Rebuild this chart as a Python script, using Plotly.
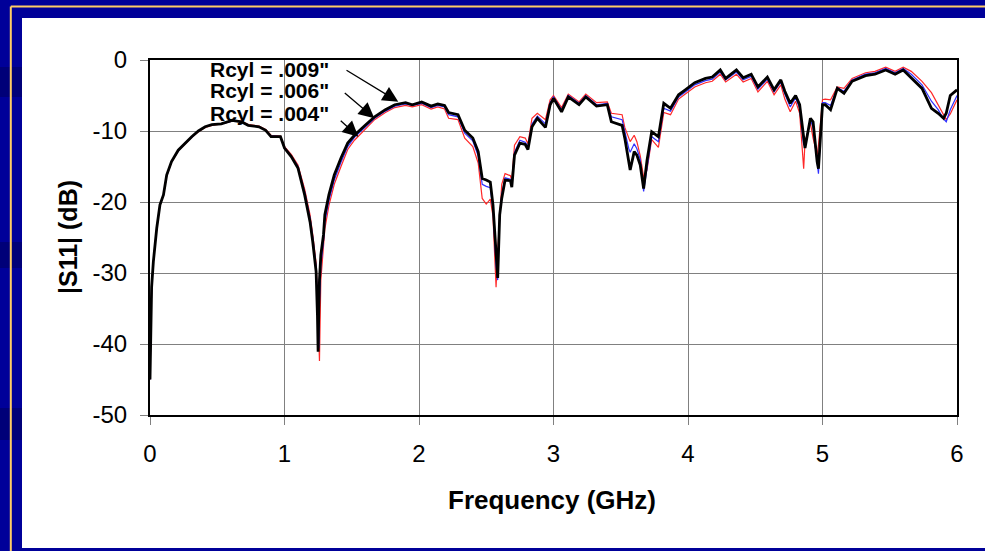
import plotly.graph_objects as go

# ---------------- data ----------------
freq_ghz = [0.0, 0.005, 0.012, 0.025, 0.05, 0.074, 0.1, 0.124, 0.16, 0.21, 0.26, 0.31, 0.36, 0.41,
            0.46, 0.53, 0.61, 0.68, 0.73, 0.81, 0.86, 0.9, 0.97, 1.0, 1.05, 1.1, 1.15, 1.19, 1.21,
            1.235, 1.245, 1.25, 1.255, 1.26, 1.27, 1.29, 1.3, 1.33, 1.37, 1.42, 1.47, 1.52, 1.6,
            1.67, 1.75, 1.82, 1.9, 1.95, 2.02, 2.09, 2.14, 2.19, 2.22, 2.29, 2.34, 2.4, 2.44, 2.47,
            2.5, 2.53, 2.55, 2.565, 2.573, 2.585, 2.6, 2.615, 2.64, 2.68, 2.69, 2.71, 2.75, 2.79,
            2.81, 2.84, 2.88, 2.94, 2.975, 3.0, 3.06, 3.11, 3.19, 3.24, 3.32, 3.4, 3.43, 3.51,
            3.53, 3.56, 3.57, 3.6, 3.62, 3.645, 3.67, 3.695, 3.73, 3.78, 3.82, 3.87, 3.93, 3.98,
            4.05, 4.13, 4.18, 4.24, 4.28, 4.36, 4.41, 4.47, 4.52, 4.59, 4.64, 4.69, 4.72, 4.76,
            4.8, 4.83, 4.86, 4.87, 4.91, 4.93, 4.96, 4.97, 5.0, 5.02, 5.06, 5.11, 5.16, 5.22,
            5.32, 5.39, 5.47, 5.54, 5.6, 5.66, 5.74, 5.81, 5.86, 5.9, 5.92, 5.95, 6.0]

s11_r009 = [-45, -38, -32, -28.4, -23.7, -20.4, -19.0, -16.2, -14.3, -12.7, -11.7, -10.8, -10.0, -9.4,
            -9.1, -9.0, -8.5, -8.7, -9.2, -9.4, -9.9, -10.8, -10.8, -12.4, -13.6, -15.2, -19.0, -22.8, -25.6,
            -29.8, -35.9, -41.1, -35.0, -31.0, -27.5, -24.6, -21.8, -19.0, -16.2, -13.8, -11.7, -10.6, -9.2,
            -8.0, -7.0, -6.3, -6.0, -6.3, -5.9, -6.5, -6.2, -6.4, -7.4, -7.7, -9.9, -11.0, -12.9, -16.7,
            -16.9, -17.2, -20.4, -25.6, -28.0, -30.7, -21.8, -19.5, -16.9, -17.0, -17.9, -13.4, -11.7, -11.9,
            -12.6, -9.4, -8.2, -9.5, -6.3, -5.4, -7.3, -5.2, -6.3, -5.2, -6.5, -6.3, -8.7, -9.2,
            -11.0, -14.8, -15.5, -12.9, -13.4, -14.8, -18.1, -14.2, -10.1, -10.8, -6.1, -6.8, -4.9, -4.2,
            -3.2, -2.6, -2.4, -1.4, -2.6, -1.4, -2.5, -2.0, -3.8, -2.4, -4.2, -2.8, -4.4, -6.1,
            -5.0, -6.3, -11.5, -12.4, -8.2, -8.7, -14.3, -15.3, -6.3, -6.3, -7.0, -4.0, -4.7, -3.0,
            -2.2, -2.0, -1.4, -2.0, -1.4, -2.5, -4.0, -6.8, -7.5, -8.2, -7.5, -5.0, -4.2]

s11_r006 = [-45, -38, -32, -28.4, -23.7, -20.4, -19.0, -16.3, -14.3, -12.8, -11.7, -10.9, -10.0, -9.4,
            -9.1, -9.0, -8.6, -8.7, -9.2, -9.4, -9.9, -10.7, -10.8, -12.3, -13.5, -15.0, -18.6, -22.3, -25.0,
            -29.2, -34.5, -39.5, -40.6, -34.0, -29.0, -25.5, -22.8, -19.8, -16.9, -14.4, -12.2, -10.9, -9.4,
            -8.2, -7.2, -6.5, -6.2, -6.4, -6.1, -6.7, -6.4, -6.6, -7.7, -8.0, -10.3, -11.4, -13.5, -17.5,
            -17.8, -18.0, -21.0, -26.5, -29.0, -31.0, -22.0, -19.0, -16.6, -16.8, -17.5, -13.0, -11.3, -11.6,
            -12.2, -9.0, -7.9, -9.0, -6.0, -5.2, -7.0, -5.0, -6.1, -5.0, -6.3, -6.1, -8.0, -8.4,
            -10.2, -12.5, -13.0, -11.8, -12.5, -14.0, -18.5, -15.0, -10.8, -11.5, -6.8, -7.2, -5.2, -4.5,
            -3.5, -2.9, -2.7, -1.7, -2.8, -1.7, -2.8, -2.3, -4.1, -2.7, -4.5, -3.1, -4.8, -6.6,
            -5.3, -6.8, -12.0, -11.8, -8.4, -9.5, -14.8, -16.0, -6.0, -6.0, -6.4, -3.9, -4.4, -2.8,
            -2.0, -1.8, -1.2, -1.8, -1.2, -2.0, -3.5, -5.8, -7.0, -8.3, -8.7, -7.0, -5.0]

s11_r004 = [-45, -38, -32, -28.4, -23.7, -20.5, -19.1, -16.3, -14.4, -12.8, -11.8, -10.9, -10.1, -9.5,
            -9.2, -9.0, -8.6, -8.6, -9.1, -9.3, -9.8, -10.6, -10.7, -12.2, -13.3, -14.8, -18.2, -21.8, -24.6,
            -28.6, -33.5, -38.0, -41.5, -42.4, -31.0, -26.5, -23.8, -20.5, -17.5, -15.0, -12.6, -11.3, -9.7,
            -8.4, -7.4, -6.7, -6.4, -6.6, -6.3, -6.9, -6.6, -6.9, -8.2, -8.4, -11.0, -12.2, -14.5, -19.5,
            -20.3, -19.6, -22.0, -28.5, -32.0, -27.0, -22.0, -17.5, -16.0, -16.3, -17.0, -12.0, -10.8, -11.0,
            -11.8, -8.2, -7.5, -8.4, -5.6, -5.0, -6.7, -4.8, -5.9, -4.8, -6.0, -5.9, -7.5, -7.7,
            -9.5, -11.0, -11.5, -10.6, -11.5, -13.5, -16.5, -15.5, -11.2, -12.3, -7.4, -7.7, -5.5, -4.8,
            -3.8, -3.2, -3.0, -2.0, -3.1, -2.0, -3.1, -2.6, -4.5, -3.0, -4.9, -3.5, -5.5, -7.3,
            -5.8, -7.5, -15.3, -11.5, -8.9, -11.0, -13.4, -12.0, -5.6, -5.5, -5.6, -3.8, -4.0, -2.6,
            -1.8, -1.6, -1.0, -1.6, -1.0, -1.6, -3.0, -4.6, -6.3, -7.8, -8.4, -7.6, -5.6]

series_names = ['Rcyl = .004"', 'Rcyl = .006"', 'Rcyl = .009"']
x_ticks = [0, 1, 2, 3, 4, 5, 6]
y_ticks = [0, -10, -20, -30, -40, -50]

# ---------------- figure geometry ----------------
W, H = 985, 551
ML, MR, MT, MB = 150, 28, 60, 136
PW, PH = W - ML - MR, H - MT - MB


def px(xp):
    return (xp - ML) / PW


def py(yp):
    return (H - MB - yp) / PH


FONT = "Liberation Sans, Arial, sans-serif"
NAVY = "#000099"

fig = go.Figure()
fig.add_trace(go.Scatter(x=freq_ghz, y=s11_r004, mode="lines", name=series_names[0],
                         line=dict(color="#ff2828", width=1.2)))
fig.add_trace(go.Scatter(x=freq_ghz, y=s11_r006, mode="lines", name=series_names[1],
                         line=dict(color="#3030ff", width=1.2)))
fig.add_trace(go.Scatter(x=freq_ghz, y=s11_r009, mode="lines", name=series_names[2],
                         line=dict(color="#000000", width=2.8)))

shapes = [
    # white slide panel
    dict(type="rect", xref="paper", yref="paper", x0=px(22), x1=px(990), y0=py(548), y1=py(18),
         fillcolor="white", line=dict(width=0), layer="below"),
    # darker blotches on the left border
    dict(type="rect", xref="paper", yref="paper", x0=px(-5), x1=px(22), y0=py(97), y1=py(67),
         fillcolor="#000078", line=dict(width=0), layer="below"),
    dict(type="rect", xref="paper", yref="paper", x0=px(-5), x1=px(22), y0=py(268), y1=py(242),
         fillcolor="#000078", line=dict(width=0), layer="below"),
    dict(type="rect", xref="paper", yref="paper", x0=px(-5), x1=px(22), y0=py(440), y1=py(408),
         fillcolor="#000078", line=dict(width=0), layer="below"),
    # thin gold frame lines
    dict(type="line", xref="paper", yref="paper", x0=px(10.8), x1=px(10.8), y0=py(560), y1=py(6.5),
         line=dict(color="#FFCC66", width=2), layer="below"),
    dict(type="line", xref="paper", yref="paper", x0=px(10.8), x1=px(995), y0=py(6.5), y1=py(6.5),
         line=dict(color="#FFCC66", width=2), layer="below"),
]

annotations = [
    dict(text="<b>|S11| (dB)</b>", xref="paper", yref="paper", x=px(68), y=py(237), showarrow=False,
         textangle=-90, font=dict(family=FONT, size=25, color="black"), xanchor="center", yanchor="middle"),
    dict(text="<b>Frequency (GHz)</b>", xref="paper", yref="paper", x=px(552), y=py(500), showarrow=False,
         font=dict(family=FONT, size=26, color="black"), xanchor="center", yanchor="middle"),
]

label_pos = [(0.431, -7.6), (0.431, -4.25), (0.431, -1.3)]
arrow_tail = [(1.407, -8.35), (1.437, -4.46), (1.45, -1.31)]
arrow_head = [(1.549, -10.8), (1.668, -8.2), (1.846, -5.87)]
for name, (lx, ly), (tx, ty), (hx, hy) in zip(series_names, label_pos, arrow_tail, arrow_head):
    annotations.append(dict(text="<b>" + name + "</b>", x=lx, y=ly, xref="x", yref="y", showarrow=False,
                            xanchor="left", yanchor="middle",
                            font=dict(family=FONT, size=21, color="black")))
    annotations.append(dict(text="", x=hx, y=hy, ax=tx, ay=ty, xref="x", yref="y", axref="x", ayref="y",
                            showarrow=True, arrowhead=2, arrowsize=2.4, arrowwidth=1.3,
                            arrowcolor="black", standoff=0, startstandoff=0))

axis_common = dict(showgrid=True, gridcolor="#808080", gridwidth=1, showline=True, linecolor="black",
                   linewidth=2, mirror=True, ticks="outside", tickcolor="#808080", tickwidth=1,
                   ticklen=8, zeroline=False, tickfont=dict(family=FONT, size=24, color="black"))

fig.update_layout(
    width=W, height=H, margin=dict(l=ML, r=MR, t=MT, b=MB),
    paper_bgcolor=NAVY, plot_bgcolor="white", showlegend=False,
    shapes=shapes, annotations=annotations,
    xaxis=dict(range=[0, 6], tickvals=x_ticks, ticktext=[str(v) for v in x_ticks],
               ticklabelstandoff=8, **axis_common),
    yaxis=dict(range=[-50, 0], tickvals=y_ticks, ticktext=[str(v) for v in y_ticks],
               ticklabelstandoff=8, **axis_common),
)

fig.write_html("out.html")
